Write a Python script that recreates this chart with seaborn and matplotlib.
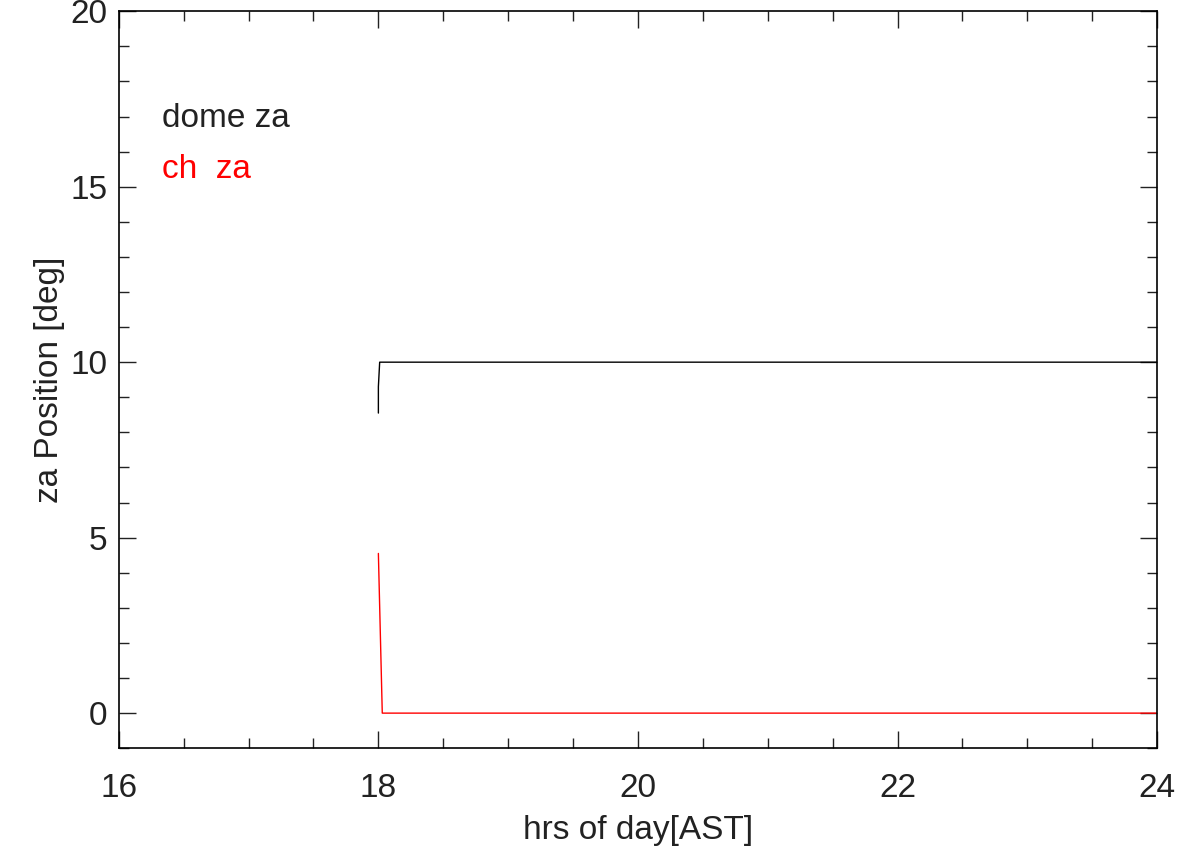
import matplotlib
matplotlib.use('Agg')
import matplotlib.pyplot as plt
import seaborn as sns
import pandas as pd
from matplotlib.ticker import MultipleLocator

# podaci ocitani sa slike
dome_hrs = [18.0, 18.0, 18.0, 18.01, 24.0]
dome_za = [8.55, 9.1, 9.3, 10.0, 10.0]
ch_hrs = [18.0, 18.03, 24.0]
ch_za = [4.55, 0.0, 0.0]

dome_df = pd.DataFrame({'hrs': dome_hrs, 'za': dome_za})
ch_df = pd.DataFrame({'hrs': ch_hrs, 'za': ch_za})

sns.set_style('white')
plt.rcParams['font.family'] = ['Liberation Sans', 'DejaVu Sans']

fig, ax = plt.subplots(figsize=(11.88, 8.63), dpi=100)
sns.lineplot(data=dome_df, x='hrs', y='za', color='black', lw=1, sort=False, estimator=None, ax=ax)
sns.lineplot(data=ch_df, x='hrs', y='za', color='red', lw=1, sort=False, estimator=None, ax=ax)

ax.set_xlim(16, 24)
ax.set_ylim(-1, 20)
ax.xaxis.set_major_locator(MultipleLocator(2))
ax.xaxis.set_minor_locator(MultipleLocator(0.5))
ax.yaxis.set_major_locator(MultipleLocator(5))
ax.yaxis.set_minor_locator(MultipleLocator(1))
ax.tick_params(which='both', direction='in', bottom=True, left=True, top=True, right=True,
               colors='#222222', labelsize=24, width=1)
ax.tick_params(which='major', length=12)
ax.tick_params(axis='x', which='major', pad=18)
ax.tick_params(axis='y', which='major', pad=8)
ax.tick_params(which='minor', length=7)
for s in ax.spines.values():
    s.set_color('black')
    s.set_linewidth(1.2)

ax.set_xlabel('hrs of day[AST]', fontsize=24, color='#222222', labelpad=8)
ax.set_ylabel('za Position [deg]', fontsize=24, color='#222222', labelpad=4)

ax.text(16.33, 16.95, 'dome za', fontsize=24, color='#222222', va='center')
ax.text(16.33, 15.5, 'ch  za', fontsize=24, color='red', va='center')

plt.subplots_adjust(left=0.1, right=0.974, top=0.987, bottom=0.133)
plt.savefig('out.png', dpi=100)
